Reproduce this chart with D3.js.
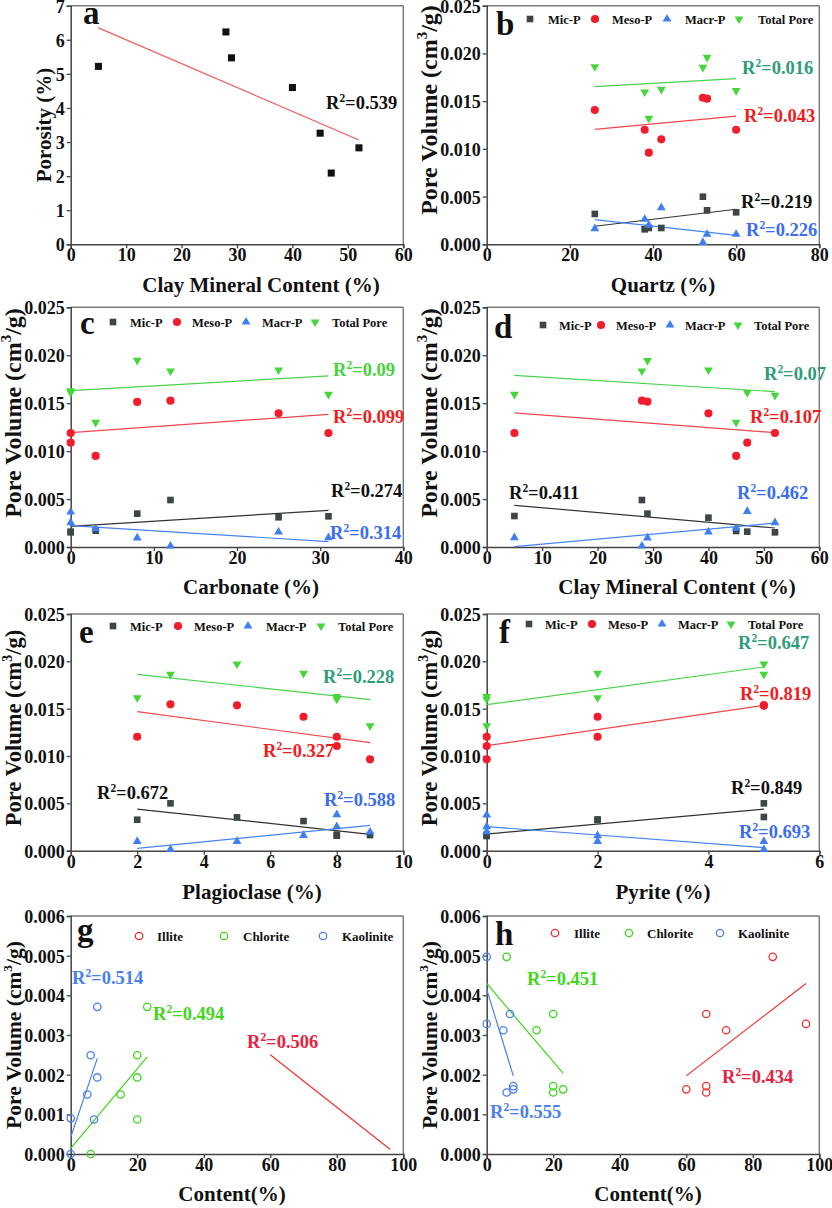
<!DOCTYPE html>
<html><head><meta charset="utf-8">
<script src="https://cdn.jsdelivr.net/npm/d3@7"></script>
<style>
body{margin:0;background:#fff}
svg{display:block}
text{font-family:"Liberation Serif","Times New Roman",serif;font-weight:bold;fill:#111}
</style>
</head><body>
<svg id="chart" width="832" height="1208"></svg>
<script>
// ---------------- DATA ----------------
// Panel a: porosity vs clay mineral content
const aClay = [5, 28, 29, 40, 45, 47, 52];
const aPorosity = [5.22, 6.23, 5.47, 4.60, 3.26, 2.09, 2.83];
const aTrend = [5, 6.35, 52, 3.06];

// Panel b: quartz
const bX = [26, 38, 39, 42, 52, 53, 60];
const bMic = [0.00318, 0.00157, 0.00171, 0.00171, 0.00499, 0.00356, 0.00335];
const bMeso = [0.01407, 0.0120, 0.0096, 0.0110, 0.01536, 0.01526, 0.0120];
const bMacr = [0.00164, 0.00262, 0.00200, 0.00384, 0.0002, 0.00105, 0.00105];
const bTotal = [0.01861, 0.01596, 0.0132, 0.01624, 0.01854, 0.01959, 0.0161];
const bTrends = {total: [26, 0.01652, 60, 0.01735], meso: [26, 0.01205, 60, 0.01344], mic: [26, 0.00189, 60, 0.00367], macr: [26, 0.00258, 60, 0.00094]};
const bR2 = {total: "0.016", meso: "0.043", mic: "0.219", macr: "0.226"};

// Panel c: carbonate
const cX = [0, 0, 3, 8, 12, 25, 31];
const cMic = [0.00153, 0.0016, 0.0017, 0.00348, 0.0049, 0.0031, 0.0032];
const cMeso = [0.01189, 0.01088, 0.0095, 0.01513, 0.01526, 0.01394, 0.01189];
const cMacr = [0.00365, 0.00254, 0.0019, 0.00094, 0.0001, 0.00156, 0.00097];
const cTotal = [0.0163, 0.0161, 0.0130, 0.01947, 0.01836, 0.01846, 0.01592];
const cTrends = {total: [0, 0.01631, 31, 0.01784], meso: [0, 0.01193, 31, 0.01384], mic: [0, 0.00216, 31, 0.00382], macr: [0, 0.00223, 31, 0.00056]};
const cR2 = {total: "0.09", meso: "0.099", mic: "0.274", macr: "0.314"};

// Panel d: clay mineral content
const dX = [5, 28, 29, 40, 45, 47, 52];
const dMic = [0.00323, 0.0049, 0.00348, 0.00306, 0.00167, 0.0016, 0.00153];
const dMeso = [0.01189, 0.01526, 0.01516, 0.01394, 0.0095, 0.01088, 0.01189];
const dMacr = [0.00097, 0.0001, 0.00094, 0.00156, 0.00195, 0.00372, 0.00254];
const dTotal = [0.01592, 0.01836, 0.01944, 0.01846, 0.0130, 0.0161, 0.01582];
const dTrends = {total: [5, 0.01791, 52, 0.0162], meso: [5, 0.01398, 52, 0.01193], mic: [5, 0.00435, 52, 0.00198], macr: [5, 0.00003, 52, 0.0025]};
const dR2 = {total: "0.07", meso: "0.107", mic: "0.411", macr: "0.462"};

// Panel e: plagioclase
const eX = [2, 3, 5, 7, 8, 8, 9];
const eMic = [0.00327, 0.0050, 0.00352, 0.00313, 0.00158, 0.0017, 0.00165];
const eMeso = [0.01204, 0.01546, 0.01535, 0.01415, 0.01204, 0.01106, 0.00965];
const eMacr = [0.00099, 0.00014, 0.00099, 0.00162, 0.0038, 0.00254, 0.00197];
const eTotal = [0.01616, 0.01863, 0.01972, 0.01873, 0.01627, 0.0160, 0.0132];
const eTrends = {total: [2, 0.01863, 9, 0.01595], meso: [2, 0.01468, 9, 0.01141], mic: [2, 0.0044, 9, 0.00173], macr: [2, 0.00025, 9, 0.00268]};
const eR2 = {total: "0.228", meso: "0.327", mic: "0.672", macr: "0.588"};

// Panel f: pyrite
const fX = [0, 0, 0, 2, 2, 5, 5];
const fMic = [0.00155, 0.0016, 0.0017, 0.00324, 0.0033, 0.0050, 0.00356];
const fMeso = [0.01204, 0.01106, 0.00965, 0.01415, 0.01204, 0.01539, 0.0153];
const fMacr = [0.00377, 0.00254, 0.0020, 0.00158, 0.00099, 0.00099, 0.00014];
const fTotal = [0.01627, 0.0160, 0.0132, 0.01873, 0.01616, 0.01972, 0.01863];
const fTrends = {total: [0, 0.01542, 5, 0.0194], meso: [0, 0.01109, 5, 0.01535], mic: [0, 0.00176, 5, 0.0044], macr: [0, 0.00254, 5, 0.00032]};
const fR2 = {total: "0.647", meso: "0.819", mic: "0.849", macr: "0.693"};

// Panel g: clay minerals vs micropore volume
const gKaolX = [0, 0, 5, 6, 7, 8, 8];
const gKaolY = [0.0009, 0.0, 0.0015, 0.00249, 0.00087, 0.00193, 0.00371];
const gChlX = [6, 15, 20, 20, 20, 23];
const gChlY = [0.0, 0.0015, 0.00249, 0.00193, 0.00087, 0.00371];
const gIllX = [];
const gIllY = [];
const gTrends = {kaol: [0, 0.00042, 8, 0.00241], chl: [0, 0.00014, 23, 0.00245], ill: [60, 0.0025, 96, 0.00012]};
const gR2 = {kaol: "0.514", chl: "0.494", ill: "0.506"};

// Panel h: clay minerals vs macropore volume
const hKaolX = [0, 0, 5, 6, 7, 8, 8];
const hKaolY = [0.00497, 0.00328, 0.00312, 0.00155, 0.00353, 0.00171, 0.00163];
const hChlX = [6, 15, 20, 20, 20, 23];
const hChlY = [0.00497, 0.00312, 0.00353, 0.00171, 0.00155, 0.00163];
const hIllX = [60, 66, 66, 66, 72, 86, 96];
const hIllY = [0.00163, 0.00353, 0.00171, 0.00155, 0.00312, 0.00497, 0.00328];
const hTrends = {kaol: [0, 0.00415, 8, 0.00197], chl: [0, 0.0043, 23, 0.00203], ill: [60, 0.00197, 96, 0.0043]};
const hR2 = {kaol: "0.555", chl: "0.451", ill: "0.434"};

const poreLegend = ["Mic-P", "Meso-P", "Macr-P", "Total Pore"];
const clayLegend = ["Illite", "Chlorite", "Kaolinite"];

// ---------------- STYLE ----------------
const COL = {mic: "#3d4646", meso: "#f21d2c", macr: "#3f7ff0", total: "#46d63c",
  micLine: "#333", mesoLine: "#f04848", macrLine: "#4584f0", totalLine: "#48d448",
  teal: "#2e9c78", micLbl: "#111", mesoLbl: "#f01c1c", macrLbl: "#3a6df0",
  ill: "#f03030", chl: "#3cd61e", kaol: "#4a80ea", illLbl: "#e8213e", chlLbl: "#42d61a", kaolLbl: "#4a80ea"};

const svg = d3.select("#chart");

function supText(g, x, y, pre, sup, post, size, color, anchor) {
  const t = g.append("text").attr("x", x).attr("y", y).attr("font-size", size)
    .style("fill", color || "#111").attr("text-anchor", anchor || "start");
  t.append("tspan").text(pre);
  t.append("tspan").text(sup).attr("font-size", size * 0.62).attr("dy", -size * 0.4);
  t.append("tspan").text(post).attr("font-size", size).attr("dy", size * 0.4);
  return t;
}

function panel(cfg) {
  const g = svg.append("g");
  const x = d3.scaleLinear().domain(cfg.xDomain).range([cfg.x0, cfg.x1]);
  const y = d3.scaleLinear().domain(cfg.yDomain).range([cfg.yB, cfg.yT]);
  // frame top/right
  g.append("line").attr("x1", cfg.x0).attr("x2", cfg.x1).attr("y1", cfg.yT).attr("y2", cfg.yT).attr("stroke", "#7a7a7a").attr("stroke-width", 1.4);
  g.append("line").attr("x1", cfg.x1).attr("x2", cfg.x1).attr("y1", cfg.yT).attr("y2", cfg.yB).attr("stroke", "#7a7a7a").attr("stroke-width", 1.4);
  const xa = g.append("g").attr("transform", `translate(0,${cfg.yB})`)
    .call(d3.axisBottom(x).tickValues(cfg.xTicks).tickSize(4).tickFormat(d3.format("d")));
  const ya = g.append("g").attr("transform", `translate(${cfg.x0},0)`)
    .call(d3.axisLeft(y).tickValues(cfg.yTicks).tickSize(4).tickFormat(d3.format(cfg.yFmt)));
  [xa, ya].forEach(a => {
    a.select(".domain").attr("stroke", "#444").attr("stroke-width", 1.5);
    a.selectAll(".tick line").attr("stroke", "#444").attr("stroke-width", 1.3);
    a.selectAll(".tick text").attr("font-size", 18).style("fill", "#111")
      .style("font-family", '"Liberation Serif","Times New Roman",serif').style("font-weight", "bold");
  });
  xa.selectAll(".tick text").attr("dy", 0).attr("y", 17);
  ya.selectAll(".tick text").attr("x", -6).attr("dy", "0.36em");

  // trend lines
  (cfg.trends || []).forEach(t => {
    g.append("line").attr("x1", x(t.d[0])).attr("y1", y(t.d[1])).attr("x2", x(t.d[2])).attr("y2", y(t.d[3]))
      .attr("stroke", t.color).attr("stroke-width", 1.2);
  });
  // points
  (cfg.series || []).forEach(s => {
    const pts = s.x.map((v, i) => [v, s.y[i]]);
    if (s.open) {
      g.selectAll(null).data(pts).enter().append("circle")
        .attr("cx", d => x(d[0])).attr("cy", d => y(d[1])).attr("r", 3.7)
        .attr("fill", "none").attr("stroke", s.color).attr("stroke-width", 1.3);
    } else {
      const sym = d3.symbol().type(s.type).size(s.size);
      g.selectAll(null).data(pts).enter().append("path")
        .attr("d", sym).attr("fill", s.color)
        .attr("transform", d => `translate(${x(d[0])},${y(d[1])})${s.rot ? " rotate(180)" : ""}`);
    }
  });
  // R2 labels
  (cfg.labels || []).forEach(l => supText(g, l.px, l.py, "R", "2", "=" + l.text, 18.5, l.color));
  // letter
  g.append("text").attr("x", cfg.letter[1]).attr("y", cfg.letter[2]).attr("font-size", 33).text(cfg.letter[0]);
  // x title
  g.append("text").attr("x", cfg.xTitle[1]).attr("y", cfg.xTitle[2]).attr("text-anchor", "middle")
    .attr("font-size", 21).text(cfg.xTitle[0]);
  // y title
  const yt = g.append("g").attr("transform", `translate(${cfg.yTitle[1]},${cfg.yTitle[2]}) rotate(-90)`);
  if (cfg.yTitle[0] === "pv") {
    supText(yt, 0, 0, "Pore Volume (cm", "3", "/g)", cfg.yTitle[3], "#111", "middle");
  } else {
    yt.append("text").attr("text-anchor", "middle").attr("font-size", cfg.yTitle[3]).text(cfg.yTitle[0]);
  }
  // legend
  if (cfg.legend) {
    cfg.legend.items.forEach(it => {
      if (it.open) {
        g.append("circle").attr("cx", it.mx).attr("cy", cfg.legend.y).attr("r", 3.7)
          .attr("fill", "none").attr("stroke", it.color).attr("stroke-width", 1.3);
      } else {
        g.append("path").attr("d", d3.symbol().type(it.type).size(it.size))
          .attr("fill", it.color)
          .attr("transform", `translate(${it.mx},${cfg.legend.y})${it.rot ? " rotate(180)" : ""}`);
      }
      g.append("text").attr("x", it.tx).attr("y", cfg.legend.y + 4.5).attr("font-size", cfg.legend.fs).text(it.label);
    });
  }
}

const SQ = {type: d3.symbolSquare, size: 44};
const CI = {type: d3.symbolCircle, size: 52};
const TR = {type: d3.symbolTriangle, size: 34};

function poreSeries(X, mic, meso, macr, total) {
  return [
    {x: X, y: mic, color: COL.mic, ...SQ},
    {x: X, y: meso, color: COL.meso, ...CI},
    {x: X, y: macr, color: COL.macr, ...TR},
    {x: X, y: total, color: COL.total, ...TR, rot: true}
  ];
}
function poreTrends(T) {
  return [
    {d: T.total, color: COL.totalLine}, {d: T.meso, color: COL.mesoLine},
    {d: T.mic, color: COL.micLine}, {d: T.macr, color: COL.macrLine}
  ];
}
function poreLeg(y, pos) {
  const keys = ["mic", "meso", "macr", "total"];
  const shapes = [SQ, CI, TR, TR];
  return {y: y, fs: 12.5, items: poreLegend.map((lab, i) => ({
    label: lab, color: COL[keys[i]], ...shapes[i], rot: i === 3, mx: pos[i][0], tx: pos[i][1]}))};
}
function clayLeg(y, pos) {
  const cols = [COL.ill, COL.chl, COL.kaol];
  return {y: y, fs: 13, items: clayLegend.map((lab, i) => ({label: lab, color: cols[i], open: true, mx: pos[i][0], tx: pos[i][1]}))};
}

const pvTicks = [0, 0.005, 0.01, 0.015, 0.02, 0.025];
const clayTicks = [0, 0.001, 0.002, 0.003, 0.004, 0.005, 0.006];

// Panel a
panel({x0: 70.7, x1: 403.3, yT: 5.7, yB: 244.3, xDomain: [0, 60], yDomain: [0, 7],
  xTicks: d3.range(0, 61, 10), yTicks: d3.range(0, 8, 1), yFmt: "d",
  series: [{x: aClay, y: aPorosity, color: "#111", type: d3.symbolSquare, size: 50}],
  trends: [{d: aTrend, color: "#f25a5a"}],
  labels: [{text: "0.539", color: "#111", px: 326, py: 109}],
  letter: ["a", 83, 24], xTitle: ["Clay Mineral Content (%)", 261, 292], yTitle: ["Porosity (%)", 51, 125, 21]});

// Panel b
panel({x0: 486.7, x1: 819.3, yT: 5.7, yB: 244.3, xDomain: [0, 80], yDomain: [0, 0.025],
  xTicks: d3.range(0, 81, 20), yTicks: pvTicks, yFmt: ".3f",
  series: poreSeries(bX, bMic, bMeso, bMacr, bTotal), trends: poreTrends(bTrends),
  labels: [{text: bR2.total, color: COL.teal, px: 742, py: 74}, {text: bR2.meso, color: COL.mesoLbl, px: 744, py: 122},
    {text: bR2.mic, color: COL.micLbl, px: 741, py: 208}, {text: bR2.macr, color: COL.macrLbl, px: 746, py: 236}],
  legend: poreLeg(19, [[530, 548], [595, 612], [667, 685], [739, 758]]),
  letter: ["b", 496, 35], xTitle: ["Quartz (%)", 663, 292], yTitle: ["pv", 437, 110, 24]});

// Panel c
panel({x0: 70.7, x1: 403.3, yT: 307.3, yB: 547, xDomain: [0, 40], yDomain: [0, 0.025],
  xTicks: d3.range(0, 41, 10), yTicks: pvTicks, yFmt: ".3f",
  series: poreSeries(cX, cMic, cMeso, cMacr, cTotal), trends: poreTrends(cTrends),
  labels: [{text: cR2.total, color: "#44d23a", px: 333, py: 376}, {text: cR2.meso, color: COL.mesoLbl, px: 333, py: 423},
    {text: cR2.mic, color: COL.micLbl, px: 331, py: 497}, {text: cR2.macr, color: COL.macrLbl, px: 330, py: 539}],
  legend: poreLeg(322, [[113, 130], [177, 192], [246, 262], [315, 332]]),
  letter: ["c", 80, 334], xTitle: ["Carbonate (%)", 251, 594], yTitle: ["pv", 21, 413, 24]});

// Panel d
panel({x0: 486.7, x1: 819.3, yT: 307.3, yB: 547, xDomain: [0, 60], yDomain: [0, 0.025],
  xTicks: d3.range(0, 61, 10), yTicks: pvTicks, yFmt: ".3f",
  series: poreSeries(dX, dMic, dMeso, dMacr, dTotal), trends: poreTrends(dTrends),
  labels: [{text: dR2.total, color: COL.teal, px: 764, py: 380}, {text: dR2.meso, color: COL.mesoLbl, px: 750, py: 423},
    {text: dR2.mic, color: COL.micLbl, px: 509, py: 499}, {text: dR2.macr, color: COL.macrLbl, px: 737, py: 499}],
  legend: poreLeg(325, [[543, 559], [601, 616], [670, 685], [738, 754]]),
  letter: ["d", 494, 338], xTitle: ["Clay Mineral Content (%)", 677, 594], yTitle: ["pv", 437, 413, 24]});

// Panel e
panel({x0: 70.7, x1: 403.3, yT: 614, yB: 850.7, xDomain: [0, 10], yDomain: [0, 0.025],
  xTicks: d3.range(0, 11, 2), yTicks: pvTicks, yFmt: ".3f",
  series: poreSeries(eX, eMic, eMeso, eMacr, eTotal), trends: poreTrends(eTrends),
  labels: [{text: eR2.total, color: COL.teal, px: 323, py: 683}, {text: eR2.meso, color: COL.mesoLbl, px: 263, py: 757},
    {text: eR2.mic, color: COL.micLbl, px: 97, py: 799}, {text: eR2.macr, color: COL.macrLbl, px: 324, py: 806}],
  legend: poreLeg(626, [[113, 130], [178, 194], [248, 266], [321, 338]]),
  letter: ["e", 79, 643], xTitle: ["Plagioclase (%)", 252, 899], yTitle: ["pv", 21, 728, 22.5]});

// Panel f
panel({x0: 486.7, x1: 819.3, yT: 614, yB: 850.7, xDomain: [0, 6], yDomain: [0, 0.025],
  xTicks: d3.range(0, 7, 2), yTicks: pvTicks, yFmt: ".3f",
  series: poreSeries(fX, fMic, fMeso, fMacr, fTotal), trends: poreTrends(fTrends),
  labels: [{text: fR2.total, color: COL.teal, px: 738, py: 649}, {text: fR2.meso, color: COL.mesoLbl, px: 740, py: 700},
    {text: fR2.mic, color: COL.micLbl, px: 731, py: 794}, {text: fR2.macr, color: COL.macrLbl, px: 739, py: 838}],
  legend: poreLeg(624, [[529, 545], [592, 608], [662, 678], [731, 748]]),
  letter: ["f", 499, 643], xTitle: ["Pyrite (%)", 663, 899], yTitle: ["pv", 437, 728, 22.5]});

// Panel g
panel({x0: 70.7, x1: 403.3, yT: 916, yB: 1154, xDomain: [0, 100], yDomain: [0, 0.006],
  xTicks: d3.range(0, 101, 20), yTicks: clayTicks, yFmt: ".3f",
  series: [{x: gIllX, y: gIllY, color: COL.ill, open: true}, {x: gChlX, y: gChlY, color: COL.chl, open: true},
    {x: gKaolX, y: gKaolY, color: COL.kaol, open: true}],
  trends: [{d: gTrends.kaol, color: COL.kaol}, {d: gTrends.chl, color: COL.chl}, {d: gTrends.ill, color: COL.ill}],
  labels: [{text: gR2.kaol, color: COL.kaolLbl, px: 72, py: 984}, {text: gR2.chl, color: COL.chlLbl, px: 153, py: 1020},
    {text: gR2.ill, color: COL.illLbl, px: 247, py: 1048}],
  legend: clayLeg(936, [[139, 157], [224, 243], [323, 342]]),
  letter: ["g", 77, 941], xTitle: ["Content(%)", 232, 1201], yTitle: ["pv", 21, 1035, 21.5]});

// Panel h
panel({x0: 486.7, x1: 819.3, yT: 916, yB: 1154, xDomain: [0, 100], yDomain: [0, 0.006],
  xTicks: d3.range(0, 101, 20), yTicks: clayTicks, yFmt: ".3f",
  series: [{x: hIllX, y: hIllY, color: COL.ill, open: true}, {x: hChlX, y: hChlY, color: COL.chl, open: true},
    {x: hKaolX, y: hKaolY, color: COL.kaol, open: true}],
  trends: [{d: hTrends.kaol, color: COL.kaol}, {d: hTrends.chl, color: COL.chl}, {d: hTrends.ill, color: COL.ill}],
  labels: [{text: hR2.chl, color: COL.chlLbl, px: 527, py: 985}, {text: hR2.kaol, color: COL.kaolLbl, px: 490, py: 1118},
    {text: hR2.ill, color: COL.illLbl, px: 722, py: 1083}],
  legend: clayLeg(933, [[555, 574], [629, 647], [720, 738]]),
  letter: ["h", 495, 945], xTitle: ["Content(%)", 648, 1201], yTitle: ["pv", 437, 1035, 21.5]});
</script>
</body></html>
